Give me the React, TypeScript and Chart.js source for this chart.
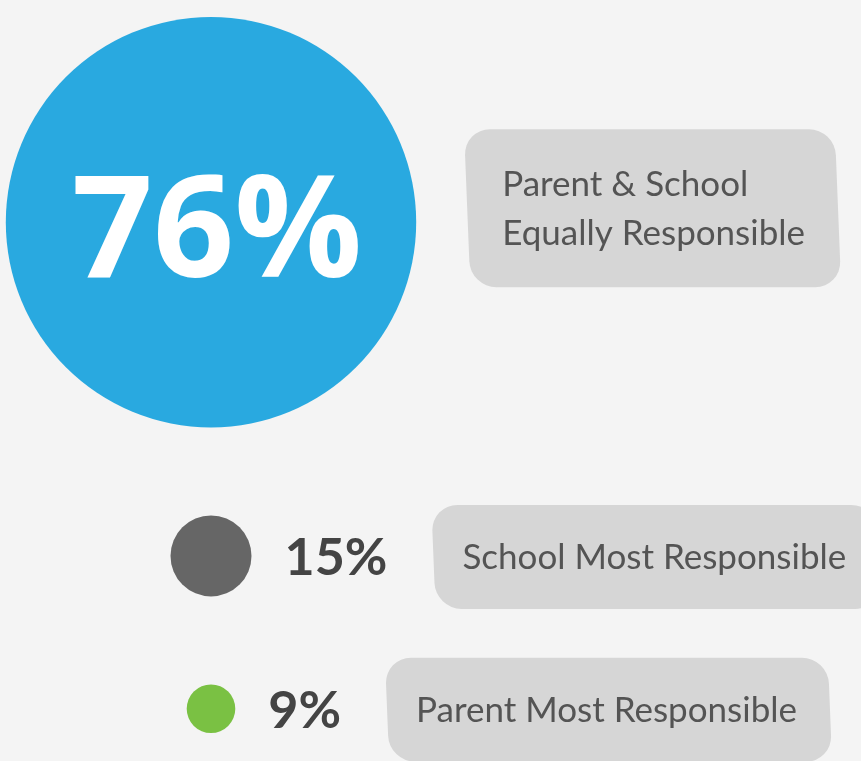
import React, { useEffect, useRef } from "react";
import { Chart, registerables } from "chart.js";

Chart.register(...registerables);

// ---- data ----
const categories = ["Parent & School Equally Responsible", "School Most Responsible", "Parent Most Responsible"];
const labelLines = [["Parent & School", "Equally Responsible"], ["School Most Responsible"], ["Parent Most Responsible"]];
const values = [76, 15, 9];
const colors = ["#29a9e0", "#666666", "#7ac143"];

// ---- layout ----
const W = 861;
const H = 761;
const CENTER_X = 211;
const TOP = 17;
const GAP = 88;
const R_PER_PCT = 2.7;
const BG = "#f4f4f4";
const BOX_COLOR = "#d6d6d6";

function layoutYs(): number[] {
  const ys: number[] = [];
  let cursor = TOP;
  values.forEach((v, i) => {
    const r = v * R_PER_PCT;
    if (i > 0) cursor += GAP;
    ys.push(cursor + r);
    cursor += 2 * r;
  });
  return ys;
}

const labelPlugin = {
  id: "labelPlugin",
  beforeDraw(chart: any) {
    const ctx = chart.ctx;
    ctx.save();
    ctx.fillStyle = BG;
    ctx.fillRect(0, 0, chart.width, chart.height);
    ctx.restore();
  },
  afterDatasetsDraw(chart: any) {
    const ctx = chart.ctx as CanvasRenderingContext2D;
    const meta = chart.getDatasetMeta(0);
    meta.data.forEach((el: any, i: number) => {
      const x = el.x;
      const y = el.y;
      const r = el.options.radius;
      const pct = values[i] + "%";
      let boxLeft: number;
      let boxCenterY: number;
      ctx.save();
      if (r > 100) {
        ctx.fillStyle = "#ffffff";
        ctx.font = "bold 142px 'Open Sans'";
        ctx.textAlign = "center";
        ctx.textBaseline = "alphabetic";
        ctx.fillText(pct, x + 6, y + 55);
        boxLeft = x + r + 51;
        boxCenterY = y - 14;
      } else {
        ctx.fillStyle = "#444444";
        ctx.font = "bold 52px Lato";
        ctx.textAlign = "left";
        ctx.textBaseline = "alphabetic";
        const tx = x + r + 33;
        ctx.fillText(pct, tx, y + 19);
        const tw = ctx.measureText(pct).width;
        boxLeft = tx + tw + 46;
        boxCenterY = y + 1;
      }
      ctx.restore();

      const lines = labelLines[i];
      ctx.save();
      ctx.font = "35px Lato";
      const textW = Math.max(...lines.map((l) => ctx.measureText(l).width));
      const padL = lines.length > 1 ? 35 : 29;
      const padR = 33;
      const boxW = textW + padL + padR;
      const boxH = lines.length > 1 ? 158 : 104;
      // box (slightly skewed, hand-drawn look)
      ctx.save();
      ctx.translate(boxLeft + boxW / 2, boxCenterY);
      ctx.transform(1, 0, 0.04, 1, 0, 0);
      ctx.beginPath();
      ctx.roundRect(-boxW / 2, -boxH / 2, boxW, boxH, 26);
      ctx.fillStyle = BOX_COLOR;
      ctx.fill();
      ctx.restore();
      // text
      ctx.fillStyle = "#545454";
      ctx.textAlign = "left";
      ctx.textBaseline = "alphabetic";
      const lh = 49;
      lines.forEach((l, k) => {
        const by = boxCenterY + (k - (lines.length - 1) / 2) * lh + 12;
        ctx.fillText(l, boxLeft + padL, by);
      });
      ctx.restore();
    });
  },
};

export default function App() {
  const ref = useRef<HTMLCanvasElement | null>(null);
  useEffect(() => {
    document.body.style.margin = "0";
    document.body.style.background = BG;
    const canvas = ref.current;
    if (!canvas) return;
    const ys = layoutYs();
    const chart = new Chart(canvas, {
      type: "bubble",
      data: {
        labels: categories,
        datasets: [
          {
            label: "Responsibility",
            data: values.map((v, i) => ({ x: CENTER_X, y: ys[i], r: v * R_PER_PCT })),
            backgroundColor: colors,
            borderWidth: 0,
            hoverBorderWidth: 0,
            clip: false as any,
          },
        ],
      },
      options: {
        responsive: false,
        animation: false,
        events: [],
        layout: { padding: 0, autoPadding: false },
        plugins: { legend: { display: false }, tooltip: { enabled: false }, title: { display: false } },
        scales: {
          x: { type: "linear", min: 0, max: W, display: false },
          y: { type: "linear", min: 0, max: H, reverse: true, display: false },
        },
      },
      plugins: [labelPlugin],
    });
    return () => chart.destroy();
  }, []);
  return <canvas ref={ref} width={W} height={H} style={{ display: "block", width: W, height: H }} />;
}
